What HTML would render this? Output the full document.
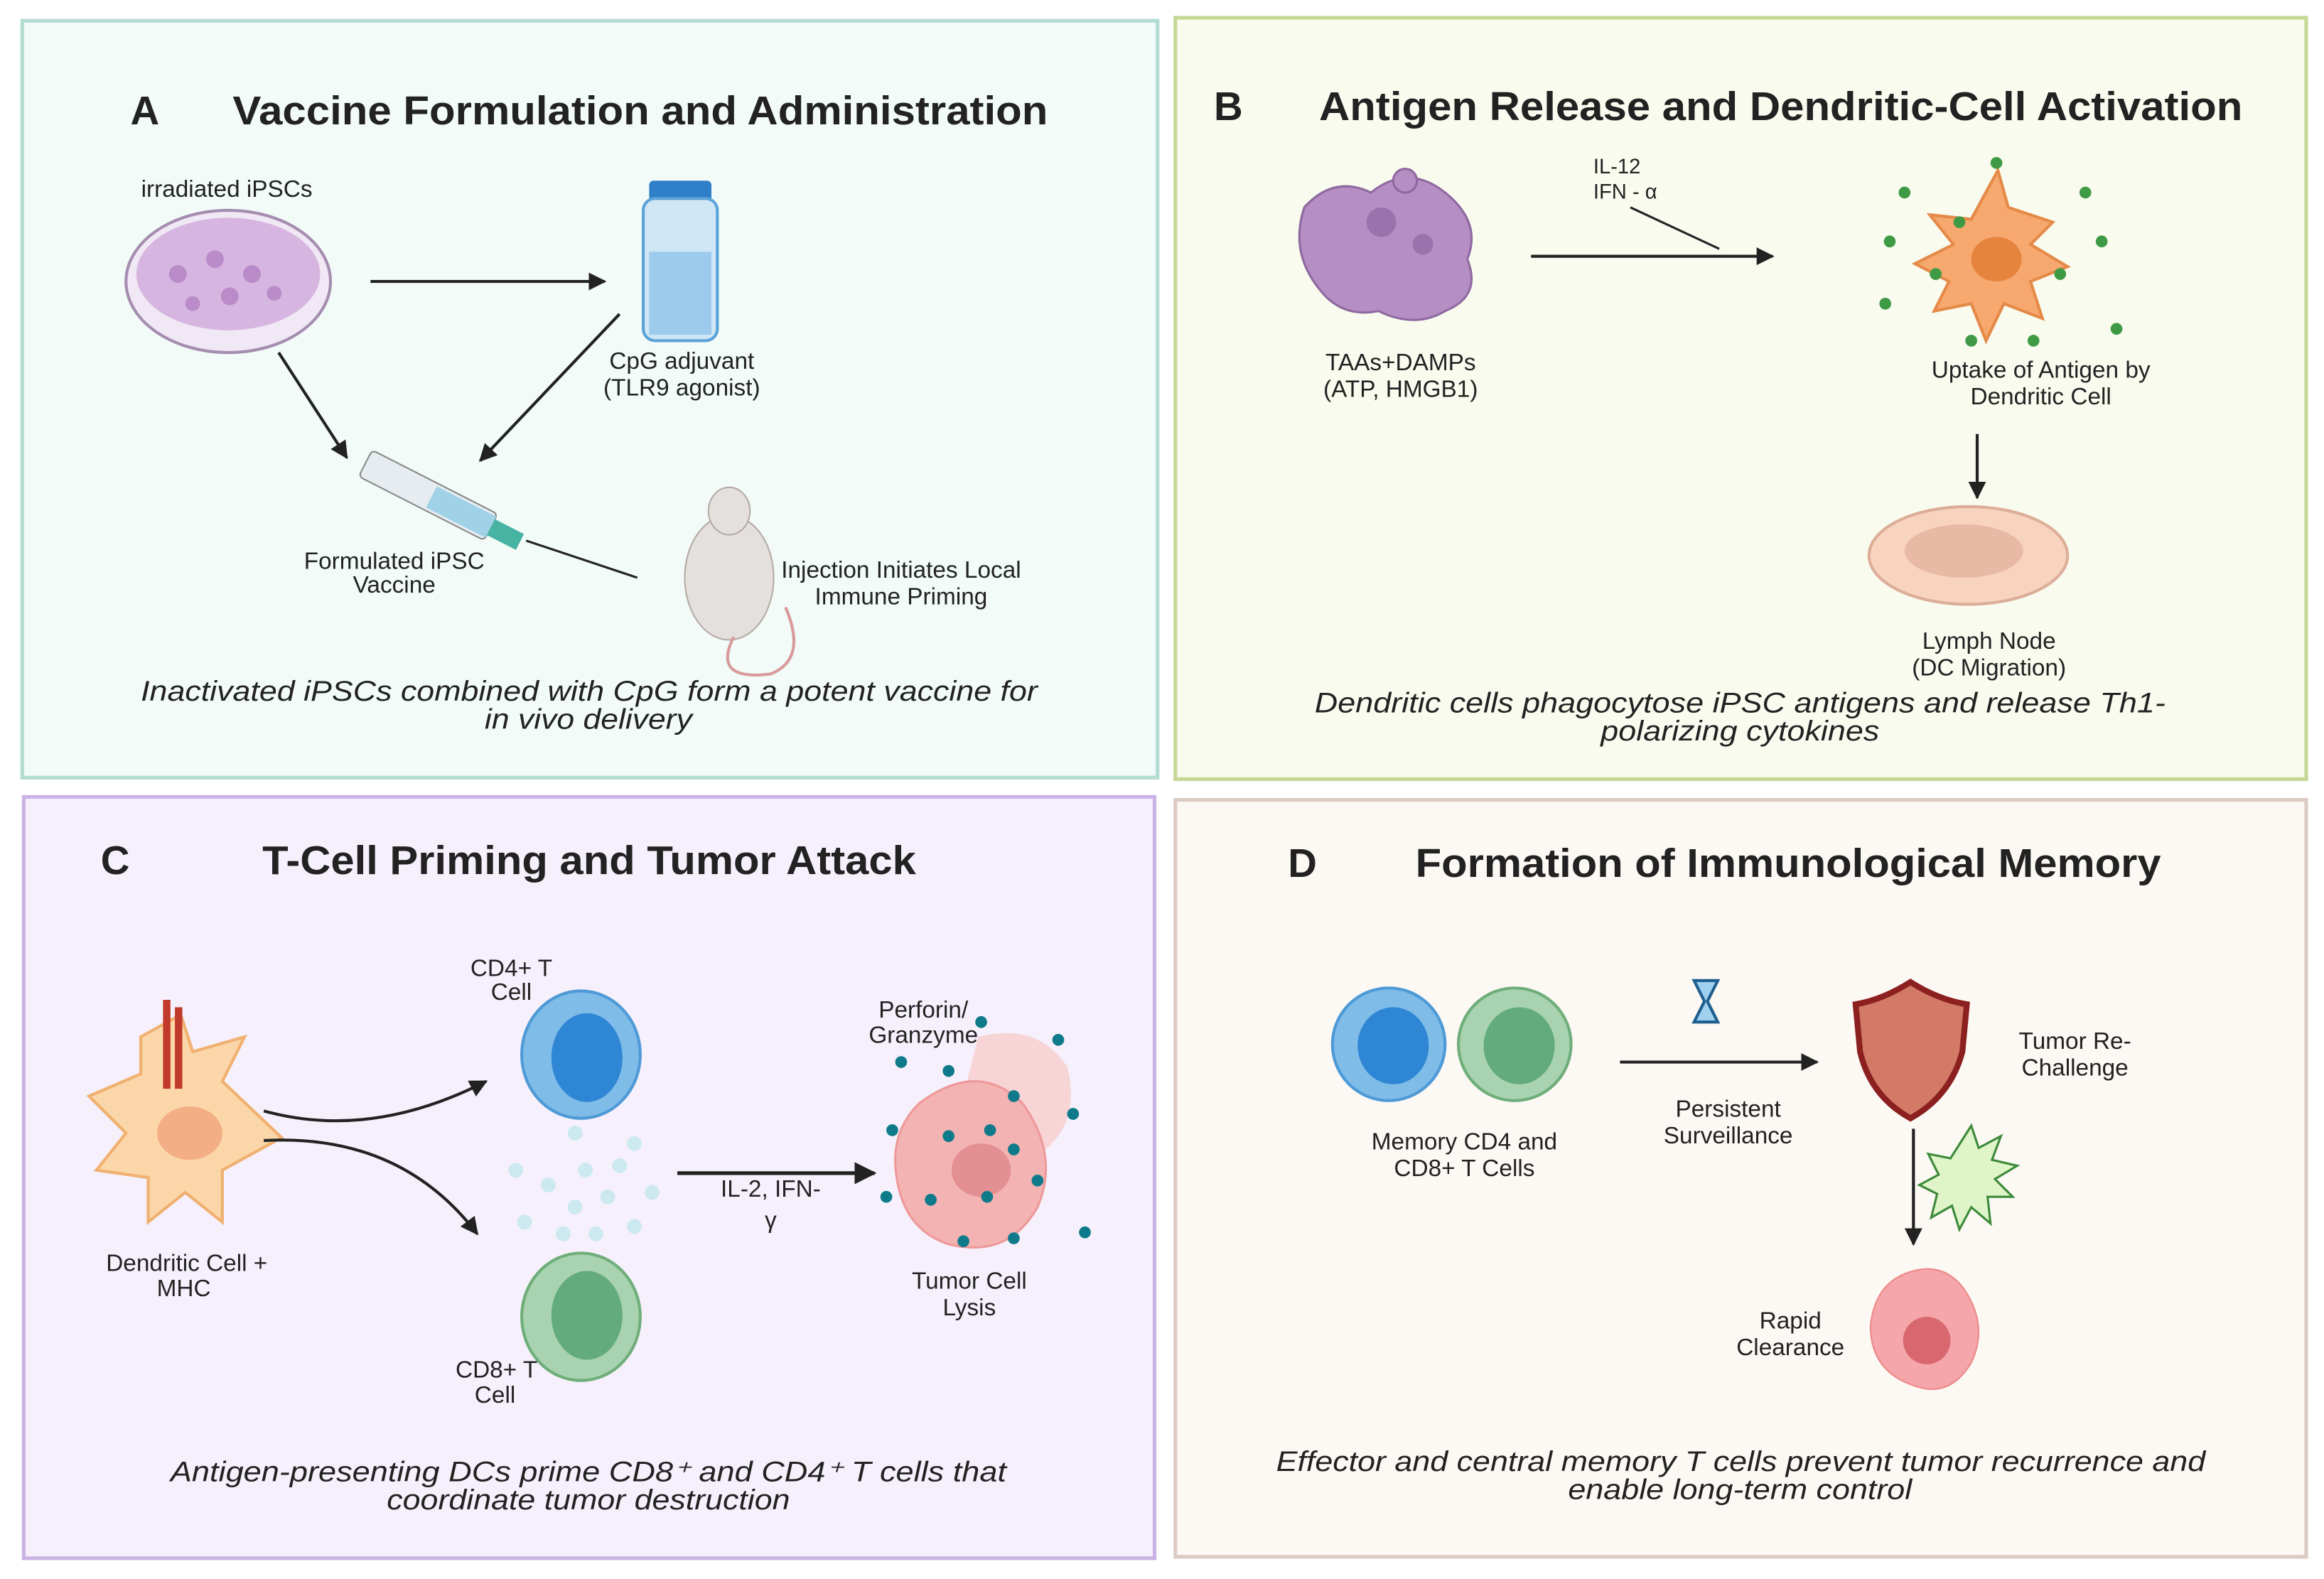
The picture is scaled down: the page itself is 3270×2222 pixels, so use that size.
<!DOCTYPE html>
<html><head><meta charset="utf-8"><style>html,body{margin:0;padding:0;background:#fff}svg{display:block}text{font-family:"Liberation Sans",sans-serif;fill:#222}</style></head><body>
<svg width="3270" height="2222" viewBox="0 0 1568 1066" preserveAspectRatio="none" xmlns="http://www.w3.org/2000/svg">
<defs><marker id="ar" viewBox="0 0 10 10" refX="9" refY="5" markerWidth="6" markerHeight="6" orient="auto"><path d="M0,0L10,5L0,10z" fill="#222"/></marker></defs>
<rect width="1568" height="1066" fill="#fff"/>
<rect x="15" y="14" width="766" height="511" fill="#f2fbf8" stroke="#b3dcd2" stroke-width="2.5"/>
<rect x="793" y="12" width="763" height="514" fill="#f9fbef" stroke="#c6d796" stroke-width="2.5"/>
<rect x="16" y="538" width="763" height="514" fill="#f5f0fb" stroke="#ccb3e6" stroke-width="2.5"/>
<rect x="793" y="540" width="763" height="511" fill="#fcf8f4" stroke="#dccbc3" stroke-width="2.5"/>
<g font-weight="bold" font-size="27">
<text x="88" y="84">A</text><text x="157" y="84" textLength="550" lengthAdjust="spacingAndGlyphs">Vaccine Formulation and Administration</text>
<text x="819" y="81">B</text><text x="890" y="81" textLength="623" lengthAdjust="spacingAndGlyphs">Antigen Release and Dendritic-Cell Activation</text>
<text x="68" y="590">C</text><text x="177" y="590" textLength="441" lengthAdjust="spacingAndGlyphs">T-Cell Priming and Tumor Attack</text>
<text x="869" y="592">D</text><text x="955" y="592" textLength="503" lengthAdjust="spacingAndGlyphs">Formation of Immunological Memory</text>
</g>
<g font-size="16" text-anchor="middle">
<!-- A -->
<text x="153" y="133">irradiated iPSCs</text>
<ellipse cx="154" cy="190" rx="69" ry="48" fill="#f1e8f5" stroke="#a58db0" stroke-width="2"/>
<ellipse cx="154" cy="185" rx="62" ry="38" fill="#d6b6e0"/>
<g fill="#b98bc8"><circle cx="120" cy="185" r="6"/><circle cx="145" cy="175" r="6"/><circle cx="170" cy="185" r="6"/><circle cx="155" cy="200" r="6"/><circle cx="185" cy="198" r="5"/><circle cx="130" cy="205" r="5"/></g>
<line x1="250" y1="190" x2="408" y2="190" stroke="#222" stroke-width="2" marker-end="url(#ar)"/>
<rect x="438" y="122" width="42" height="14" rx="3" fill="#2f80c8"/>
<rect x="434" y="134" width="50" height="96" rx="8" fill="#cfe6f5" stroke="#5aa3d8" stroke-width="2"/>
<rect x="438" y="170" width="42" height="56" fill="#9ccbed"/>
<text x="460" y="249">CpG adjuvant</text><text x="460" y="267">(TLR9 agonist)</text>
<line x1="188" y1="238" x2="234" y2="309" stroke="#222" stroke-width="2" marker-end="url(#ar)"/>
<line x1="418" y1="212" x2="324" y2="311" stroke="#222" stroke-width="2" marker-end="url(#ar)"/>
<g transform="rotate(27 300 340)"><rect x="240" y="330" width="95" height="20" rx="3" fill="#e6ecf0" stroke="#888"/><rect x="290" y="332" width="45" height="16" fill="#9fd2e6"/><rect x="335" y="334" width="22" height="12" fill="#46b3a3"/></g>
<line x1="355" y1="365" x2="430" y2="390" stroke="#222" stroke-width="1.5"/>
<text x="266" y="384">Formulated iPSC</text><text x="266" y="400">Vaccine</text>
<ellipse cx="492" cy="390" rx="30" ry="42" fill="#e4e0dd" stroke="#b5aaa5"/>
<ellipse cx="492" cy="345" rx="14" ry="16" fill="#e4e0dd" stroke="#b5aaa5"/>
<path d="M495,430 Q480,460 520,455 Q545,445 530,410" fill="none" stroke="#d89a9a" stroke-width="2"/>
<text x="608" y="390">Injection Initiates Local</text><text x="608" y="408">Immune Priming</text>
<g font-style="italic" font-size="19"><text x="95" y="473" text-anchor="start" textLength="605" lengthAdjust="spacingAndGlyphs">Inactivated iPSCs combined with CpG form a potent vaccine for</text><text x="327" y="492" text-anchor="start" textLength="140" lengthAdjust="spacingAndGlyphs">in vivo delivery</text></g>
<!-- B -->
<g fill="#b58fc4" stroke="#8e6aa0" stroke-width="1.5"><path d="M880,140 Q900,118 925,130 Q950,110 975,130 Q1000,150 990,175 Q1000,200 975,210 Q955,222 930,210 Q905,215 890,195 Q870,170 880,140z"/><circle cx="948" cy="122" r="8"/></g>
<g fill="#9a72ac"><circle cx="932" cy="150" r="10"/><circle cx="960" cy="165" r="7"/></g>
<text x="945" y="250">TAAs+DAMPs</text><text x="945" y="268">(ATP, HMGB1)</text>
<line x1="1033" y1="173" x2="1196" y2="173" stroke="#222" stroke-width="2" marker-end="url(#ar)"/>
<line x1="1100" y1="140" x2="1160" y2="168" stroke="#222" stroke-width="1.5"/>
<text x="1075" y="117" text-anchor="start" font-size="14">IL-12</text><text x="1075" y="134" text-anchor="start" font-size="14">IFN - α</text>
<path d="M1348,115 L1355,140 L1385,150 L1370,165 L1395,180 L1370,190 L1378,215 L1352,205 L1340,230 L1330,205 L1305,210 L1315,190 L1292,178 L1318,165 L1302,145 L1330,148z" fill="#f6a86e" stroke="#e58a48" stroke-width="2"/>
<ellipse cx="1347" cy="175" rx="17" ry="15" fill="#e6843e"/>
<g fill="#3f9a46"><circle cx="1347" cy="110" r="4"/><circle cx="1285" cy="130" r="4"/><circle cx="1407" cy="130" r="4"/><circle cx="1275" cy="163" r="4"/><circle cx="1418" cy="163" r="4"/><circle cx="1272" cy="205" r="4"/><circle cx="1306" cy="185" r="4"/><circle cx="1390" cy="185" r="4"/><circle cx="1428" cy="222" r="4"/><circle cx="1330" cy="230" r="4"/><circle cx="1372" cy="230" r="4"/><circle cx="1322" cy="150" r="4"/></g>
<text x="1377" y="255">Uptake of Antigen by</text><text x="1377" y="273">Dendritic Cell</text>
<line x1="1334" y1="293" x2="1334" y2="336" stroke="#222" stroke-width="2" marker-end="url(#ar)"/>
<ellipse cx="1328" cy="375" rx="67" ry="33" fill="#f7d3c0" stroke="#dcae98" stroke-width="2"/>
<ellipse cx="1325" cy="372" rx="40" ry="18" fill="#e8b9a5"/>
<text x="1342" y="438">Lymph Node</text><text x="1342" y="456">(DC Migration)</text>
<g font-style="italic" font-size="19"><text x="887" y="481" text-anchor="start" textLength="574" lengthAdjust="spacingAndGlyphs">Dendritic cells phagocytose iPSC antigens and release Th1-</text><text x="1080" y="500" text-anchor="start" textLength="188" lengthAdjust="spacingAndGlyphs">polarizing cytokines</text></g>
<!-- C -->
<path d="M122,685 L130,710 L165,700 L150,730 L190,768 L150,790 L150,825 L125,805 L100,825 L100,795 L65,790 L85,765 L60,740 L95,725 L95,700z" fill="#fbd6a8" stroke="#f0b070" stroke-width="2"/>
<ellipse cx="128" cy="765" rx="22" ry="18" fill="#f4ae86"/>
<rect x="110" y="675" width="5" height="60" fill="#c0392b"/><rect x="118" y="680" width="5" height="55" fill="#c0392b"/>
<text x="126" y="858">Dendritic Cell +</text><text x="124" y="875">MHC</text>
<path d="M178,750 Q250,770 328,730" fill="none" stroke="#222" stroke-width="2" marker-end="url(#ar)"/>
<path d="M178,770 Q270,765 322,833" fill="none" stroke="#222" stroke-width="2" marker-end="url(#ar)"/>
<ellipse cx="392" cy="712" rx="40" ry="43" fill="#7fbce8" stroke="#4e9ad6" stroke-width="2"/><ellipse cx="396" cy="714" rx="24" ry="30" fill="#2f86d4"/>
<text x="345" y="659">CD4+ T</text><text x="345" y="675">Cell</text>
<ellipse cx="392" cy="889" rx="40" ry="43" fill="#a9d3b0" stroke="#6fae7a" stroke-width="2"/><ellipse cx="396" cy="888" rx="24" ry="30" fill="#64ab7c"/>
<text x="335" y="930">CD8+ T</text><text x="334" y="947">Cell</text>
<g fill="#cde9f0"><circle cx="388" cy="765" r="5"/><circle cx="428" cy="772" r="5"/><circle cx="348" cy="790" r="5"/><circle cx="395" cy="790" r="5"/><circle cx="418" cy="787" r="5"/><circle cx="370" cy="800" r="5"/><circle cx="410" cy="808" r="5"/><circle cx="388" cy="815" r="5"/><circle cx="440" cy="805" r="5"/><circle cx="354" cy="825" r="5"/><circle cx="380" cy="833" r="5"/><circle cx="402" cy="833" r="5"/><circle cx="428" cy="828" r="5"/></g>
<line x1="457" y1="792" x2="590" y2="792" stroke="#222" stroke-width="2.5" marker-end="url(#ar)"/>
<text x="520" y="808">IL-2, IFN-</text><text x="520" y="829">γ</text>
<path d="M660,700 Q700,690 720,720 Q730,760 700,780 Q670,770 650,740z" fill="#f7cdcd" opacity=".8"/>
<path d="M620,745 Q660,715 690,745 Q715,780 700,815 Q680,850 640,840 Q610,830 605,795 Q600,765 620,745z" fill="#f4b3b3" stroke="#e99" stroke-width="1.5"/>
<ellipse cx="662" cy="790" rx="20" ry="18" fill="#e48f92"/>
<g fill="#0f7a8a"><circle cx="662" cy="690" r="4"/><circle cx="608" cy="717" r="4"/><circle cx="714" cy="702" r="4"/><circle cx="640" cy="723" r="4"/><circle cx="684" cy="740" r="4"/><circle cx="602" cy="763" r="4"/><circle cx="640" cy="767" r="4"/><circle cx="668" cy="763" r="4"/><circle cx="684" cy="776" r="4"/><circle cx="724" cy="752" r="4"/><circle cx="628" cy="810" r="4"/><circle cx="666" cy="808" r="4"/><circle cx="700" cy="797" r="4"/><circle cx="598" cy="808" r="4"/><circle cx="650" cy="838" r="4"/><circle cx="684" cy="836" r="4"/><circle cx="732" cy="832" r="4"/></g>
<text x="623" y="687">Perforin/</text><text x="623" y="704">Granzyme</text>
<text x="654" y="870">Tumor Cell</text><text x="654" y="888">Lysis</text>
<g font-style="italic" font-size="19"><text x="115" y="1000" text-anchor="start" textLength="564" lengthAdjust="spacingAndGlyphs">Antigen-presenting DCs prime CD8⁺ and CD4⁺ T cells that</text><text x="261" y="1019" text-anchor="start" textLength="272" lengthAdjust="spacingAndGlyphs">coordinate tumor destruction</text></g>
<!-- D -->
<ellipse cx="937" cy="705" rx="38" ry="38" fill="#7fbce8" stroke="#4e9ad6" stroke-width="2"/><ellipse cx="940" cy="706" rx="24" ry="26" fill="#2f86d4"/>
<ellipse cx="1022" cy="705" rx="38" ry="38" fill="#a9d3b0" stroke="#6fae7a" stroke-width="2"/><ellipse cx="1025" cy="706" rx="24" ry="26" fill="#64ab7c"/>
<text x="988" y="776">Memory CD4 and</text><text x="988" y="794">CD8+ T Cells</text>
<path d="M1143,662 h16 l-7,14 7,14 h-16 l7,-14z" fill="#9fd0ee" stroke="#1f5f8f" stroke-width="2"/>
<line x1="1093" y1="717" x2="1226" y2="717" stroke="#222" stroke-width="2" marker-end="url(#ar)"/>
<text x="1166" y="754">Persistent</text><text x="1166" y="772">Surveillance</text>
<path d="M1289,663 Q1270,675 1252,678 L1255,710 Q1262,740 1289,755 Q1316,740 1324,710 L1327,678 Q1308,675 1289,663z" fill="#d27a66" stroke="#8c2020" stroke-width="4"/>
<text x="1400" y="708">Tumor Re-</text><text x="1400" y="726">Challenge</text>
<line x1="1291" y1="762" x2="1291" y2="840" stroke="#222" stroke-width="2" marker-end="url(#ar)"/>
<path d="M1330,760 l5,15 15,-8 -6,16 17,4 -15,9 12,12 -17,0 2,18 -13,-11 -8,15 -5,-16 -14,8 4,-16 -12,-6 13,-7 -7,-14 15,3z" fill="#dff5c9" stroke="#3d8a3a" stroke-width="1.5"/>
<path d="M1285,860 Q1310,850 1325,870 Q1342,895 1330,920 Q1315,945 1290,935 Q1262,925 1262,895 Q1265,868 1285,860z" fill="#f4a6aa" stroke="#e88" stroke-width="1"/>
<ellipse cx="1300" cy="905" rx="16" ry="16" fill="#d9676f"/>
<text x="1208" y="897">Rapid</text><text x="1208" y="915">Clearance</text>
<g font-style="italic" font-size="19"><text x="861" y="993" text-anchor="start" textLength="627" lengthAdjust="spacingAndGlyphs">Effector and central memory T cells prevent tumor recurrence and</text><text x="1058" y="1012" text-anchor="start" textLength="232" lengthAdjust="spacingAndGlyphs">enable long-term control</text></g>
</g>
</svg>
</body></html>
